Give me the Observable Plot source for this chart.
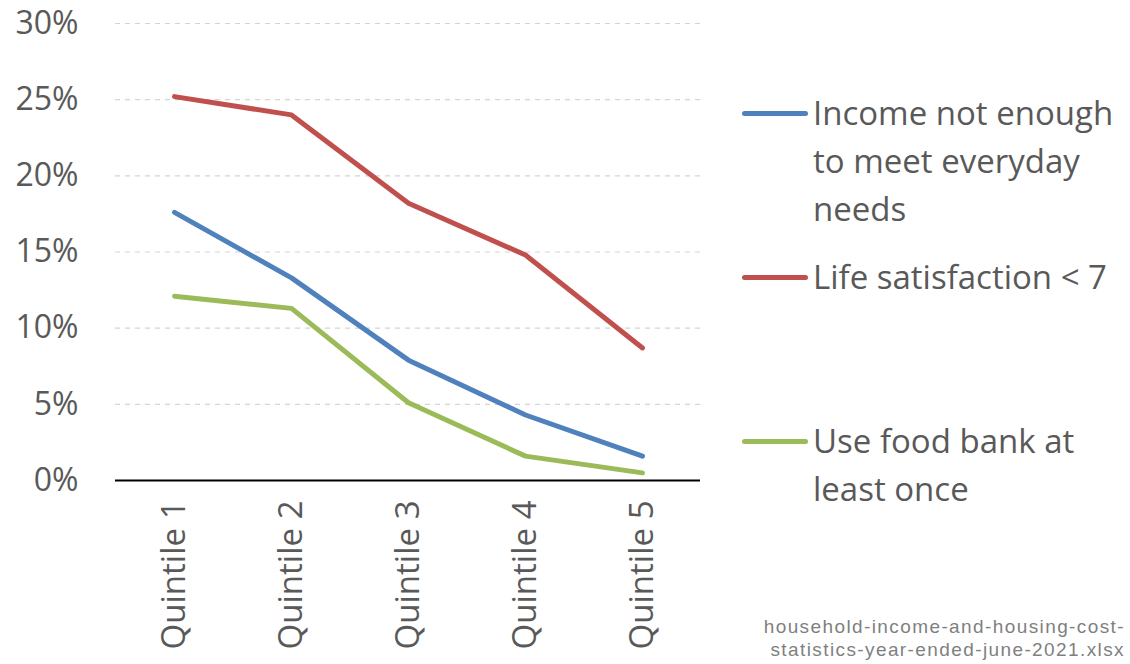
<!DOCTYPE html>
<html>
<head>
<meta charset="utf-8">
<script src="https://cdn.jsdelivr.net/npm/d3@7"></script>
<script src="https://cdn.jsdelivr.net/npm/@observablehq/plot@0.6"></script>
<style>
  html, body { margin: 0; padding: 0; background: #fff; }
  #wrap { position: relative; width: 1130px; height: 664px; overflow: hidden; }
  .leg { position: absolute; left: 742px; font-family: "Open Sans", sans-serif; font-size: 33px; color: #595959; }
  .leg .sw { position: absolute; left: 0; width: 66px; height: 5px; border-radius: 3px; }
  .leg .tx { position: absolute; left: 71px; line-height: 48px; white-space: nowrap; }
  #cap { position: absolute; right: 5px; top: 615px; text-align: right; font-family: "Liberation Sans", Arial, sans-serif; font-size: 19px; letter-spacing: 1.4px; line-height: 23px; color: #7f7f7f; white-space: nowrap; }
</style>
</head>
<body>
<div id="wrap"></div>
<script>
const quintiles = ["Quintile 1", "Quintile 2", "Quintile 3", "Quintile 4", "Quintile 5"];
const seriesNames = ["Income not enough to meet everyday needs", "Life satisfaction < 7", "Use food bank at least once"];
const incomeNotEnough = [0.176, 0.133, 0.079, 0.043, 0.016];
const lifeSatisfaction = [0.252, 0.240, 0.182, 0.148, 0.087];
const foodBank = [0.121, 0.113, 0.051, 0.016, 0.005];
const seriesColors = ["#4f81bd", "#c0504d", "#9bbb59"];
const yTicks = [0, 0.05, 0.10, 0.15, 0.20, 0.25, 0.30];

const allSeries = [incomeNotEnough, lifeSatisfaction, foodBank];
const data = [];
allSeries.forEach((vals, si) => {
  vals.forEach((v, i) => data.push({series: seriesNames[si], quintile: quintiles[i], value: v}));
});

const plot = Plot.plot({
  width: 1130,
  height: 664,
  marginLeft: 115,
  marginRight: 430,
  marginTop: 23,
  marginBottom: 184,
  style: { fontFamily: "'Open Sans', sans-serif", fontSize: "33px", color: "#595959", background: "#fff" },
  x: { type: "point", domain: quintiles, padding: 0.5 },
  y: { domain: [0, 0.3] },
  color: { domain: seriesNames, range: seriesColors },
  marks: [
    Plot.ruleY(yTicks.filter(d => d > 0), { stroke: "#d4d4d4", strokeWidth: 1.2, strokeDasharray: "5,5" }),
    Plot.ruleY([0], { stroke: "#000", strokeWidth: 2 }),
    Plot.axisY({ ticks: yTicks, tickFormat: d => Math.round(d * 100) + "%", tickSize: 0, tickPadding: 37, fontSize: 32, label: null }),
    Plot.axisX({ tickRotate: -90, tickSize: 0, tickPadding: 20, fontSize: 33, label: null }),
    Plot.line(data, { x: "quintile", y: "value", z: "series", stroke: "series", strokeWidth: 5, strokeLinejoin: "round", strokeLinecap: "round" })
  ]
});

const wrap = document.getElementById("wrap");
wrap.appendChild(plot);

const legendItems = [
  { lines: ["Income not enough", "to meet everyday", "needs"], top: 89 },
  { lines: ["Life satisfaction < 7"], top: 253 },
  { lines: ["Use food bank at", "least once"], top: 417 }
];
legendItems.forEach((item, i) => {
  const d = document.createElement("div");
  d.className = "leg";
  d.style.top = item.top + "px";
  const sw = document.createElement("div");
  sw.className = "sw";
  sw.style.top = "22px";
  sw.style.background = seriesColors[i];
  d.appendChild(sw);
  const tx = document.createElement("div");
  tx.className = "tx";
  tx.style.top = "0px";
  tx.innerHTML = item.lines.join("<br>");
  d.appendChild(tx);
  wrap.appendChild(d);
});

const cap = document.createElement("div");
cap.id = "cap";
cap.innerHTML = "household-income-and-housing-cost-<br>statistics-year-ended-june-2021.xlsx";
wrap.appendChild(cap);
</script>
</body>
</html>
